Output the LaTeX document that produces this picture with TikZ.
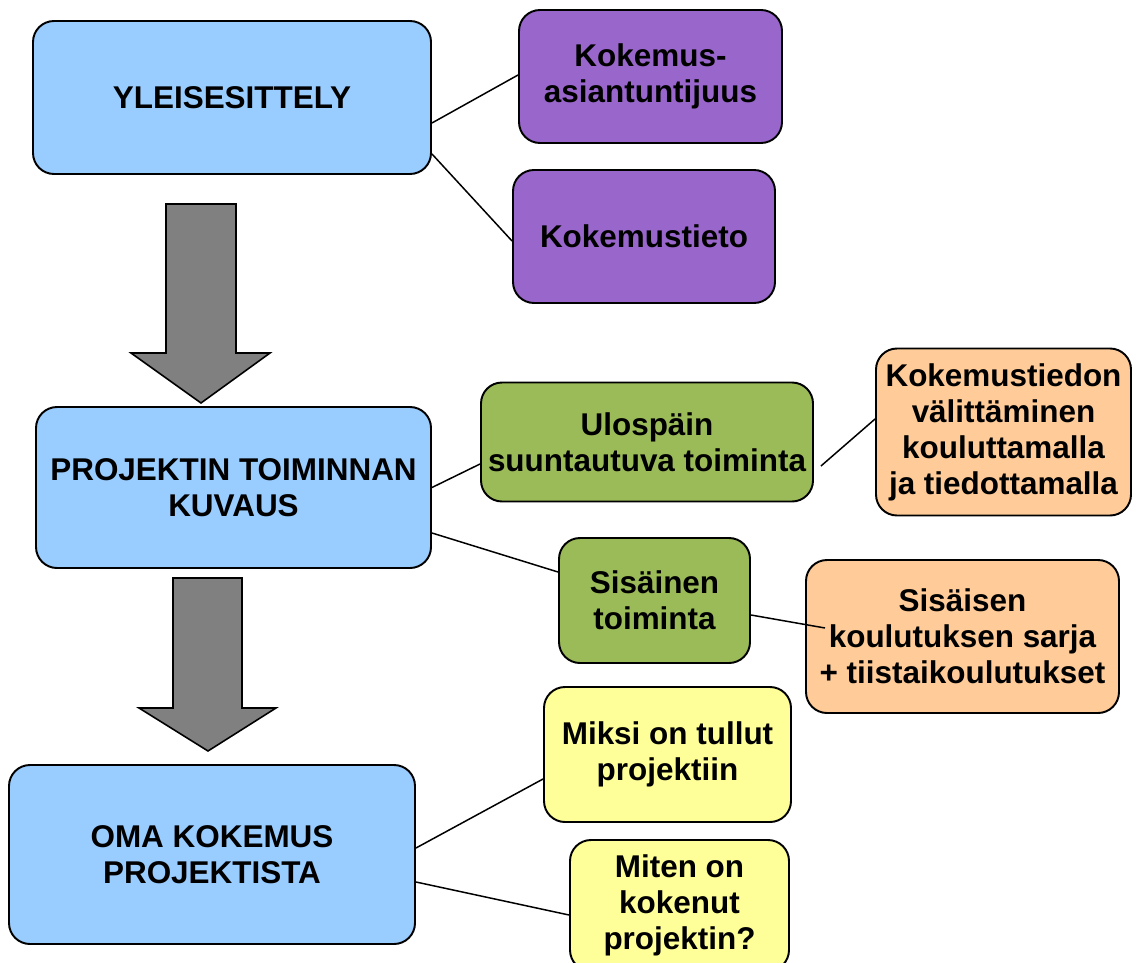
\documentclass[tikz,border=0pt]{standalone}
\usepackage{fontspec}
\setmainfont{Liberation Sans}
\definecolor{cblue}{HTML}{99CCFF}
\definecolor{cpurple}{HTML}{9966CC}
\definecolor{cgreen}{HTML}{9BBB59}
\definecolor{corange}{HTML}{FFCC99}
\definecolor{cyellow}{HTML}{FFFF99}
\definecolor{cgray}{HTML}{808080}
\tikzset{
  sz/.style 2 args={minimum width=#1*0.02cm, minimum height=#2*0.02cm},
  box/.style={draw=black, line width=1.1pt, rounded corners=0.42cm, inner sep=0pt,
    align=center, font=\bfseries\fontsize{17.9}{20.5}\selectfont},
  bluebox/.style={box, fill=cblue},
  purplebox/.style={box, fill=cpurple},
  greenbox/.style={box, fill=cgreen},
  orangebox/.style={box, fill=corange},
  yellowbox/.style={box, fill=cyellow},
  conn/.style={draw=black, line width=0.85pt},
  bigarrow/.style={draw=black, line width=0.9pt, fill=cgray}
}
\begin{document}
\begin{tikzpicture}[x=0.02cm, y=-0.02cm]
\useasboundingbox (0,0) rectangle (1139,963);
\clip (0,0) rectangle (1139,963);
% arrows
\draw[bigarrow] (166,204) -- (236,204) -- (236,353) -- (270,353) -- (201,403) -- (131,353) -- (166,353) -- cycle;
\draw[bigarrow] (173,578) -- (242,578) -- (242,708) -- (276,708) -- (208,751) -- (139,708) -- (173,708) -- cycle;
% main boxes
\node[bluebox, sz={398}{153}] (yl) at (232,97.5) {YLEISESITTELY};
\node[bluebox, sz={395}{161}] (proj) at (233.5,487.5) {PROJEKTIN TOIMINNAN\\KUVAUS};
\node[bluebox, sz={406}{179}] (oma) at (212,854.5) {OMA KOKEMUS\\PROJEKTISTA};
% purple
\node[purplebox, sz={263}{133}] (kok1) at (650.5,76.5) {Kokemus-\\asiantuntijuus};
\node[purplebox, sz={262}{133}] (kok2) at (644,236.5) {Kokemustieto};
% green
\node[greenbox, sz={332}{119}] (ulos) at (647,442) {Ulospäin\\suuntautuva toiminta};
\node[greenbox, sz={191}{125}] (sis) at (654.5,600.5) {Sisäinen\\toiminta};
% orange
\node[orangebox, sz={255}{167}] (kt) at (1003.5,432) {Kokemustiedon\\välittäminen\\kouluttamalla\\ja tiedottamalla};
\node[orangebox, sz={313}{153}] (sk) at (962.5,636.5) {Sisäisen\\koulutuksen sarja\\+ tiistaikoulutukset};
% yellow
\node[yellowbox, sz={247}{135}] (miksi) at (667.5,754.5) {Miksi on tullut\\projektiin};
\node[yellowbox, sz={219}{131}] (miten) at (679.5,905.5) {Miten on\\kokenut\\projektin?};
% connectors
\draw[conn] ([yshift=-0.51cm]yl.east) -- ([yshift=0.03cm]kok1.west);
\draw[conn] ([yshift=-1.13cm]yl.east) -- ([yshift=-0.09cm]kok2.west);
\draw[conn] (proj.east) -- ([yshift=-0.44cm]ulos.west);
\draw[conn] ([xshift=0.14cm,yshift=-0.48cm]ulos.east) -- ([yshift=0.26cm]kt.west);
\draw[conn] ([yshift=-0.91cm]proj.east) -- ([yshift=0.57cm]sis.west);
\draw[conn] ([yshift=-0.29cm]sis.east) -- ([xshift=0.4cm,yshift=0.17cm]sk.west);
\draw[conn] ([yshift=0.13cm]oma.east) -- ([yshift=-0.49cm]miksi.west);
\draw[conn] ([yshift=-0.55cm]oma.east) -- ([yshift=-0.19cm]miten.west);
\end{tikzpicture}
\end{document}
